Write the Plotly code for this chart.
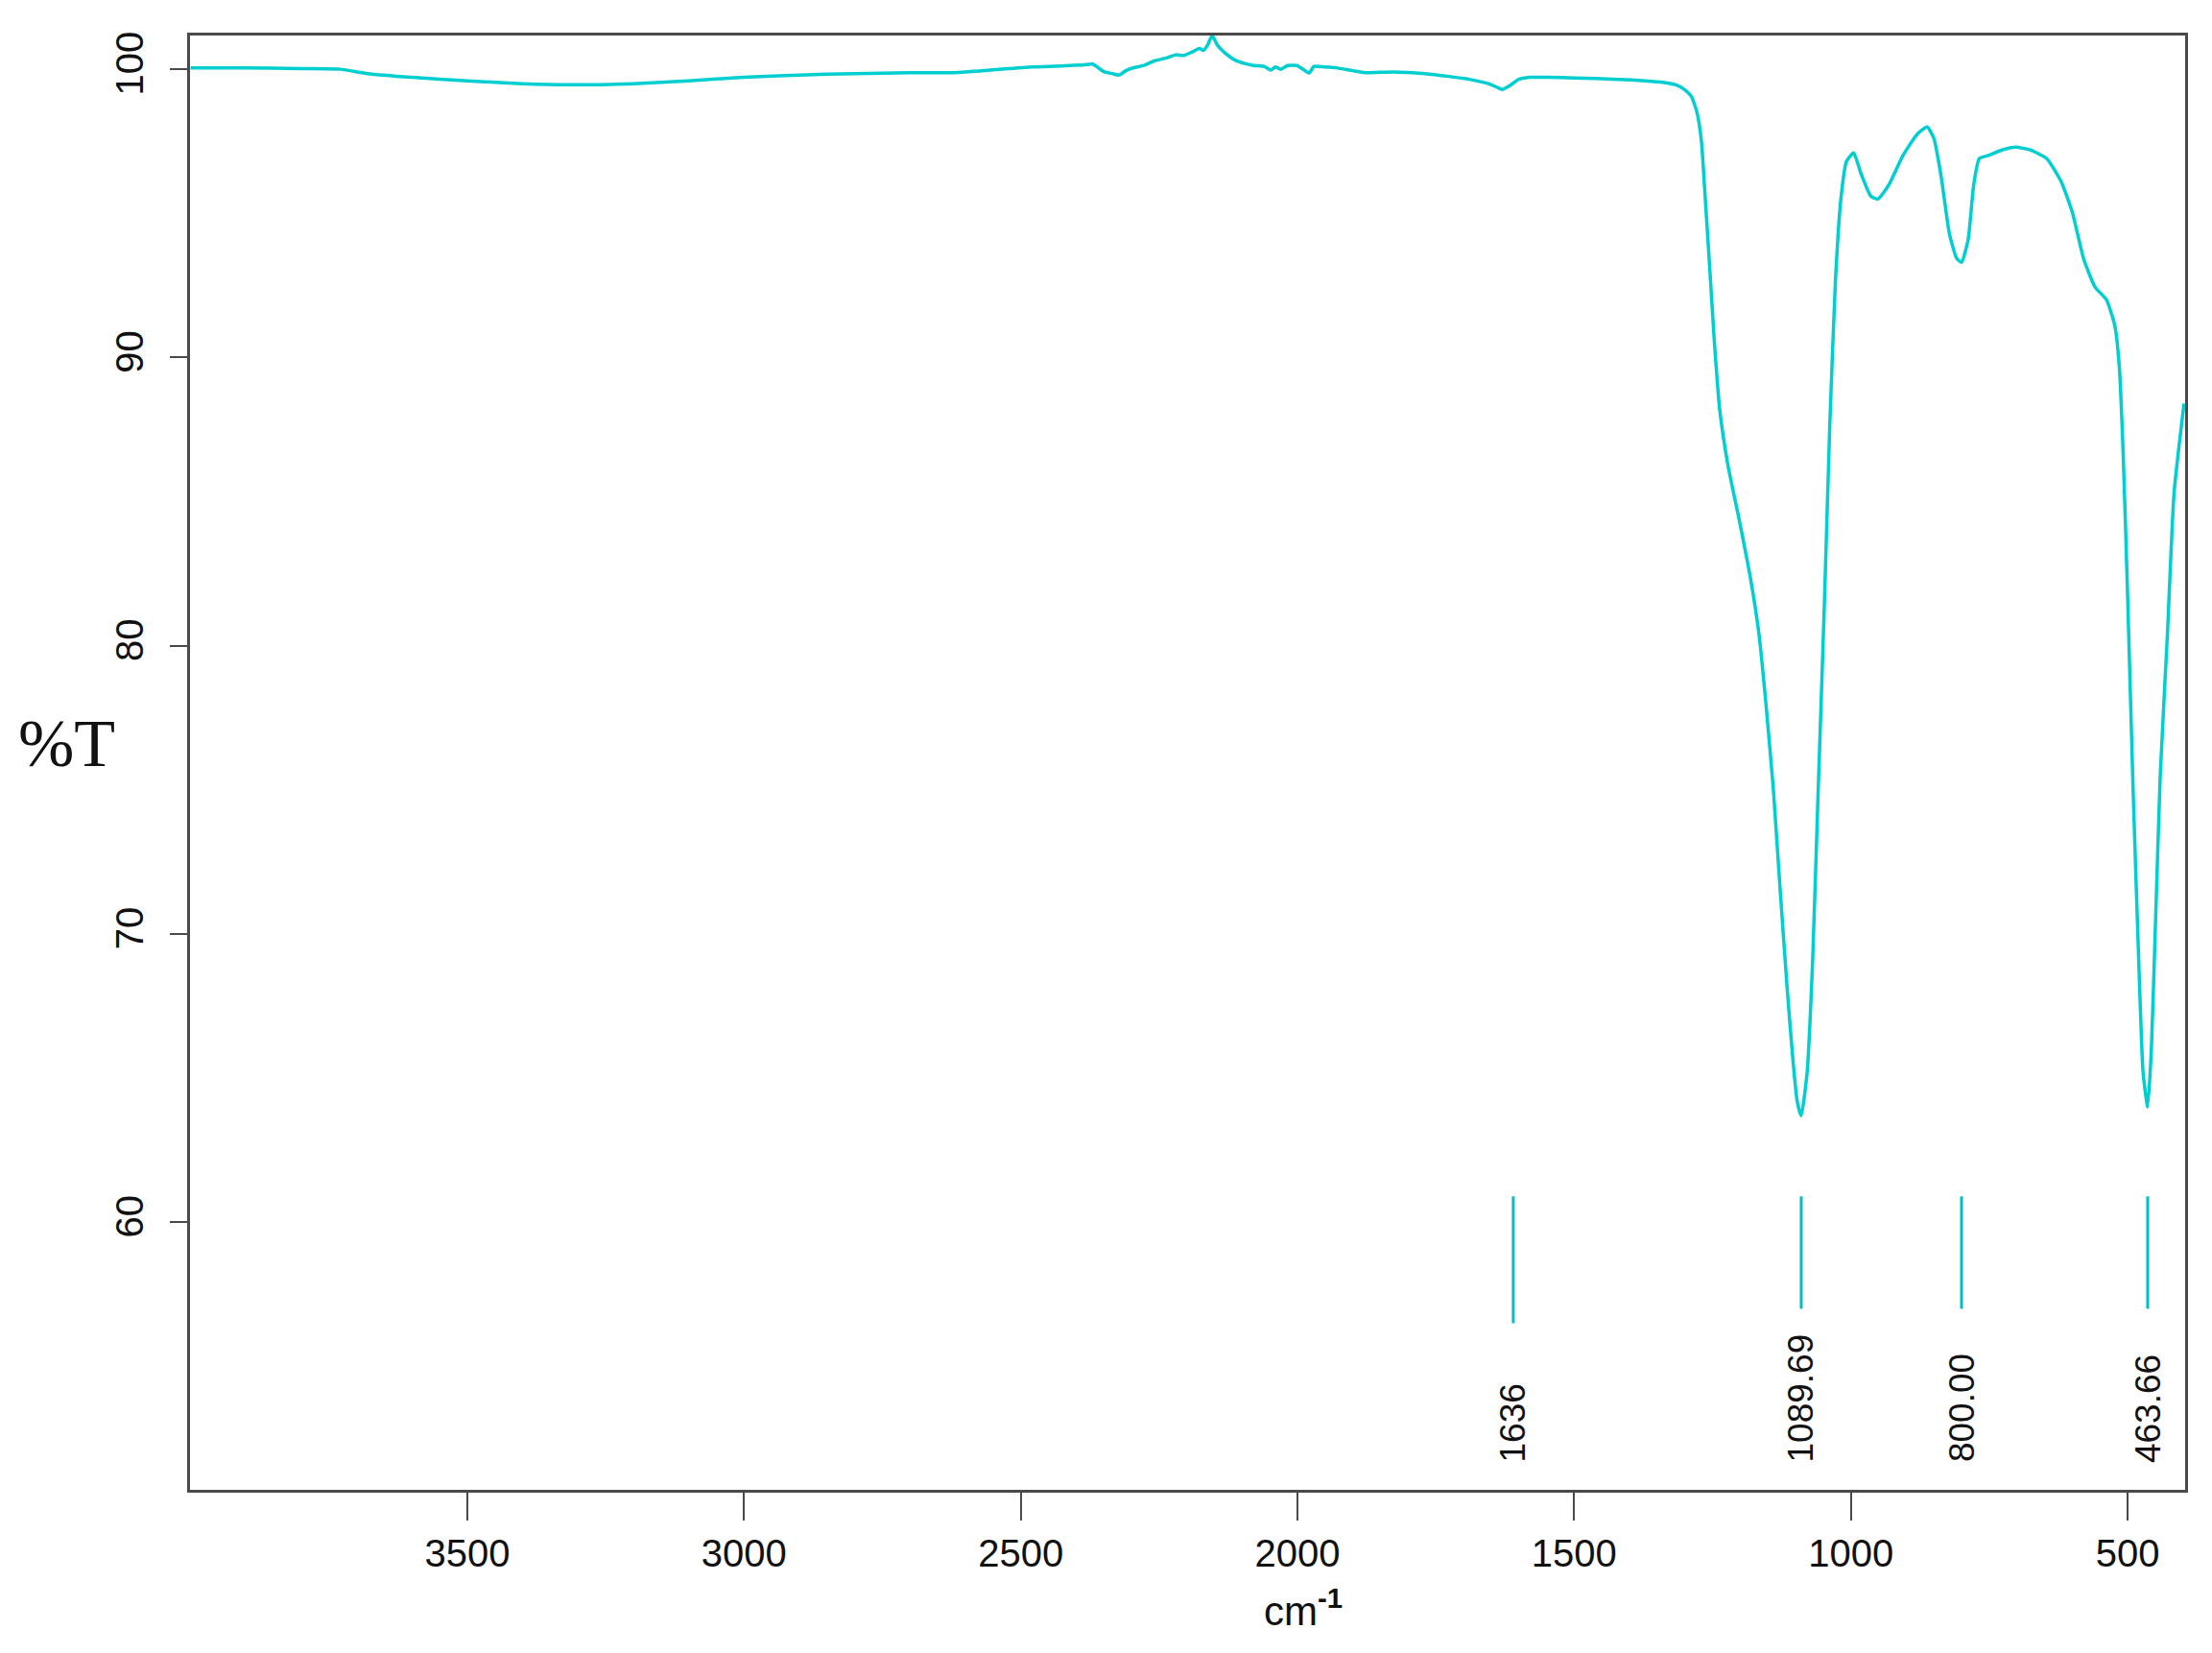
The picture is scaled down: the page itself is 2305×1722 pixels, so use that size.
import plotly.graph_objects as go

# ---- data ----
wavenumber = [
    4000, 3900, 3800, 3730, 3680, 3600, 3500, 3400, 3320, 3200, 3100, 3000, 2900, 2800,
    2700, 2620, 2550, 2480, 2420, 2388, 2370, 2360, 2350, 2335, 2322, 2310, 2300, 2285,
    2275, 2257, 2235, 2220, 2205, 2190, 2177, 2170, 2162, 2154, 2145, 2130, 2111, 2095,
    2079, 2060, 2048, 2040, 2030, 2018, 2001, 1990, 1979, 1970, 1950, 1930, 1900, 1877,
    1840, 1815, 1770, 1726, 1690, 1655, 1640, 1630, 1615, 1600, 1580, 1548, 1500, 1461,
    1420, 1372, 1340, 1315, 1301, 1288, 1278, 1270, 1263, 1255, 1247, 1237, 1222, 1201,
    1181, 1166, 1153, 1140, 1128, 1115, 1105, 1097, 1089.69, 1079, 1069, 1059, 1048, 1038,
    1028, 1018, 1008, 995, 982, 964, 951, 931, 906, 880, 862, 850, 837, 822,
    809, 800, 788, 778, 768, 753, 727, 702, 676, 646, 620, 600, 579, 559,
    538, 523, 515, 508, 500, 490, 479, 472, 463.66, 457, 450, 441, 428, 416, 398,
]
transmittance = [
    100.05, 100.05, 100.02, 100.0, 99.85, 99.72, 99.6, 99.5, 99.46, 99.5, 99.6, 99.72, 99.8, 99.85,
    99.88, 99.88, 99.98, 100.08, 100.12, 100.15, 100.18, 100.05, 99.92, 99.85, 99.8, 99.95, 100.03, 100.1,
    100.15, 100.3, 100.4, 100.5, 100.48, 100.6, 100.72, 100.65, 100.85, 101.17, 100.85, 100.55, 100.3, 100.2,
    100.13, 100.1, 99.97, 100.08, 100.0, 100.13, 100.13, 100.0, 99.87, 100.1, 100.08, 100.05, 99.95, 99.88,
    99.9, 99.9, 99.85, 99.75, 99.65, 99.5, 99.38, 99.3, 99.45, 99.65, 99.72, 99.72, 99.7, 99.68,
    99.65, 99.6, 99.55, 99.45, 99.3, 99.05, 98.5, 97.5, 95.5, 93.1, 90.65, 88.2, 86.25, 84.3,
    82.3, 80.4, 77.9, 75.0, 71.6, 68.1, 65.7, 64.2, 63.7, 65.2, 69.1, 75.0, 81.35, 87.7,
    92.6, 95.5, 96.8, 97.1, 96.4, 95.6, 95.5, 96.0, 97.0, 97.75, 98.0, 97.6, 96.3, 94.3,
    93.45, 93.3, 94.1, 96.0, 96.9, 97.0, 97.2, 97.3, 97.2, 96.9, 96.1, 95.05, 93.4, 92.45,
    92.0, 91.1, 89.7, 86.7, 81.8, 75.0, 68.6, 65.2, 64.0, 66.0, 70.1, 75.5, 80.4, 85.3, 88.4,
]

peak_positions = [1610, 1089.69, 800.00, 463.66]
peak_labels = ["1636", "1089.69", "800.00", "463.66"]
marker_top = [60.9, 60.9, 60.9, 60.9]
marker_bottom = [56.5, 57.0, 57.0, 57.0]

x_ticks = [3500, 3000, 2500, 2000, 1500, 1000, 500]
y_ticks = [60, 70, 80, 90, 100]

LINE = "#00CED1"
MARK = "#00BFC4"
AXIS = "#4a4a4a"

fig = go.Figure()
fig.add_trace(go.Scatter(
    x=wavenumber, y=transmittance, mode="lines",
    line=dict(color=LINE, width=3.5, shape="spline", smoothing=0.5),
    showlegend=False, hoverinfo="x+y",
))

for xp, yt, yb, lab in zip(peak_positions, marker_top, marker_bottom, peak_labels):
    fig.add_trace(go.Scatter(
        x=[xp, xp], y=[yt, yb], mode="lines",
        line=dict(color=MARK, width=3), showlegend=False, hoverinfo="skip",
    ))
    fig.add_annotation(
        x=xp, y=51.6, xref="x", yref="y", text=lab, showarrow=False,
        textangle=-90, xanchor="center", yanchor="bottom",
        font=dict(family="Liberation Sans, Arial", size=37, color="#111111"),
    )

fig.add_annotation(
    x=-0.062, y=0.513, xref="paper", yref="paper", text="%T", showarrow=False,
    xanchor="center", yanchor="middle",
    font=dict(family="Liberation Serif, Times New Roman", size=70, color="#111111"),
)
fig.add_annotation(
    x=1990, y=-0.081, xref="x", yref="paper",
    text="cm<sup><b>-1</b></sup>", showarrow=False,
    xanchor="center", yanchor="middle",
    font=dict(family="Liberation Sans, Arial", size=42, color="#111111"),
)

fig.update_xaxes(
    range=[4001, 396], tickvals=x_ticks, ticks="outside", ticklen=29, tickwidth=2,
    tickcolor=AXIS, showline=True, linecolor=AXIS, linewidth=3, mirror=True,
    showgrid=False, zeroline=False, automargin=False,
    tickfont=dict(family="Liberation Sans, Arial", size=40, color="#111111"),
)
fig.update_yaxes(
    range=[50.72, 101.17], tickvals=y_ticks, ticks="outside", ticklen=18, tickwidth=2,
    tickcolor=AXIS, showline=True, linecolor=AXIS, linewidth=3, mirror=True,
    showgrid=False, zeroline=False, tickangle=-90, automargin=False,
    ticklabelstandoff=12,
    tickfont=dict(family="Liberation Sans, Arial", size=40, color="#111111"),
)

fig.update_layout(
    width=2289, height=1706,
    margin=dict(l=190, r=20, t=29, b=162, pad=0),
    plot_bgcolor="white", paper_bgcolor="white",
)

fig.write_html("out.html")
